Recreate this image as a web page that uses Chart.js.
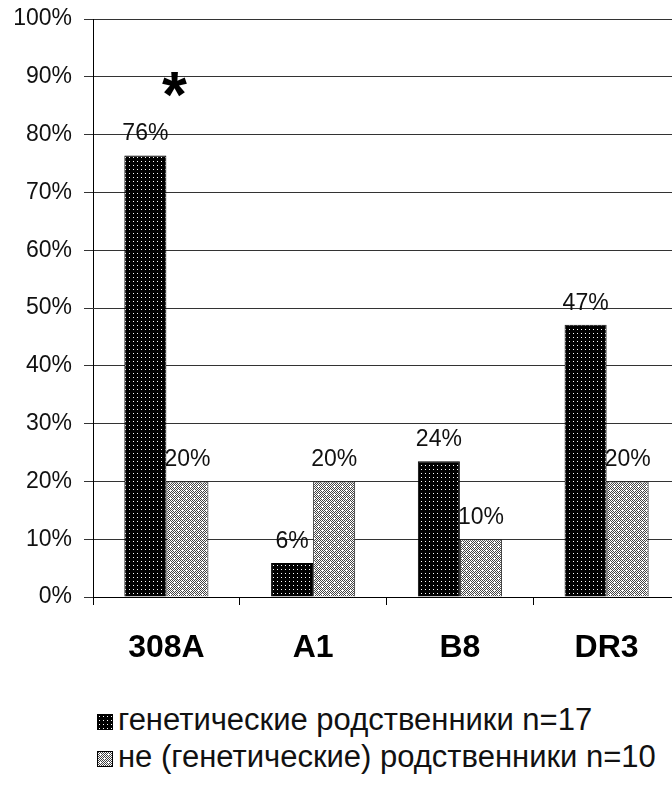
<!DOCTYPE html>
<html>
<head>
<meta charset="utf-8">
<script src="https://cdn.jsdelivr.net/npm/chart.js@4.4.1/dist/chart.umd.min.js"></script>
<style>
  html, body { margin: 0; padding: 0; background: #fff; }
  body { width: 672px; height: 792px; overflow: hidden; position: relative; font-family: "Liberation Sans", Arial, sans-serif; }
  #wrap { position: absolute; left: 0; top: 0; width: 672px; height: 680px; overflow: hidden; }
  .legend { position: absolute; left: 97px; font-size: 31px; color: #111; line-height: 38px; white-space: nowrap; }
  .legend .sw { display: inline-block; width: 16px; height: 16px; margin-right: 5px; vertical-align: 0px; box-sizing: border-box; border: 1px solid #000; }
</style>
</head>
<body>
<div id="wrap"><canvas id="chart" width="680" height="680"></canvas></div>
<div class="legend" id="leg0" style="top:701px"><span class="sw" id="sw0"></span><span id="lt0"></span></div>
<div class="legend" id="leg1" style="top:738px"><span class="sw" id="sw1"></span><span id="lt1"></span></div>
<script>
// categories and series (percent)
const categories = ['308A', 'A1', 'B8', 'DR3'];
const seriesNames = ['генетические родственники n=17', 'не (генетические) родственники n=10'];
const relatives = [76.4, 5.9, 23.5, 47.1];
const nonRelatives = [20, 20, 10, 20];
const significance = ['*', '', '', ''];
const yTickStep = 10;

const FONT = '"Liberation Sans", Arial, sans-serif';

// hatched fills like the old office chart
function makeTile(kind) {
  const c = document.createElement('canvas');
  const g = c.getContext('2d');
  if (kind === 'dark') {
    c.width = 4; c.height = 4;
    g.fillStyle = '#000';
    g.fillRect(0, 0, 4, 4);
    g.fillStyle = '#fff';
    g.fillRect(1, 1, 1, 1);
  } else {
    c.width = 8; c.height = 8;
    for (let y = 0; y < 8; y++) {
      for (let x = 0; x < 8; x++) {
        g.fillStyle = (x + y) % 2 ? '#fff' : '#444';
        g.fillRect(x, y, 1, 1);
      }
    }
    g.fillStyle = '#fff';
    [[2, 2], [6, 6]].forEach(([x, y]) => {
      g.fillRect(x - 1, y, 3, 1);
      g.fillRect(x, y - 1, 1, 3);
    });
  }
  return c;
}

const tiles = [makeTile('dark'), makeTile('light')];
const ctx = document.getElementById('chart').getContext('2d');
const fills = tiles.map(t => ctx.createPattern(t, 'repeat'));

// legend
tiles.forEach((t, i) => {
  const sw = document.getElementById('sw' + i);
  sw.style.backgroundImage = `url(${t.toDataURL()})`;
  document.getElementById('lt' + i).textContent = seriesNames[i];
});

const valueLabels = {
  id: 'valueLabels',
  afterDatasetsDraw(chart) {
    const c = chart.ctx;
    c.save();
    c.font = `23px ${FONT}`;
    c.fillStyle = '#111';
    c.textAlign = 'center';
    c.textBaseline = 'alphabetic';
    chart.data.datasets.forEach((ds, di) => {
      chart.getDatasetMeta(di).data.forEach((bar, i) => {
        c.fillText(Math.round(ds.data[i]) + '%', bar.x, bar.y - 15);
      });
    });
    c.restore();
  }
};

const starMarks = {
  id: 'starMarks',
  afterDatasetsDraw(chart) {
    const c = chart.ctx;
    const xs = chart.scales.x, ys = chart.scales.y;
    c.save();
    c.font = `bold 64px ${FONT}`;
    c.fillStyle = '#000';
    c.textAlign = 'center';
    c.textBaseline = 'alphabetic';
    significance.forEach((s, i) => {
      if (!s) return;
      const m = c.measureText(s);
      const cx = xs.getPixelForValue(i) + 8;
      const cy = ys.getPixelForValue(88.6);
      const base = cy + (m.actualBoundingBoxAscent - m.actualBoundingBoxDescent) / 2;
      c.fillText(s, cx, base);
    });
    c.restore();
  }
};

new Chart(ctx, {
  type: 'bar',
  data: {
    labels: categories,
    datasets: [
      { label: seriesNames[0], data: relatives, backgroundColor: fills[0], borderColor: '#000', borderWidth: 1 },
      { label: seriesNames[1], data: nonRelatives, backgroundColor: fills[1], borderColor: '#222', borderWidth: 1 }
    ]
  },
  options: {
    responsive: false,
    animation: false,
    categoryPercentage: 0.573,
    barPercentage: 1,
    layout: { padding: { top: 19, left: 0, right: 0, bottom: 0 } },
    plugins: {
      legend: { display: false },
      tooltip: { enabled: false }
    },
    scales: {
      x: {
        grid: { offset: true, drawOnChartArea: false, tickLength: 8, color: '#000' },
        border: { color: '#000' },
        ticks: { color: '#000', padding: 24, font: { family: FONT, size: 32, weight: 'bold' } },
        afterFit(s) { s.height = 83; s.paddingLeft = 0; s.paddingRight = 0; }
      },
      y: {
        min: 0,
        max: 100,
        grid: { color: '#333', tickLength: 9 },
        border: { color: '#000' },
        ticks: {
          stepSize: yTickStep,
          color: '#111',
          padding: 12,
          font: { family: FONT, size: 23 },
          callback: v => v + '%'
        },
        afterFit(s) { s.width = 93; s.paddingTop = 0; s.paddingBottom = 0; }
      }
    }
  },
  plugins: [valueLabels, starMarks]
});
</script>
</body>
</html>
